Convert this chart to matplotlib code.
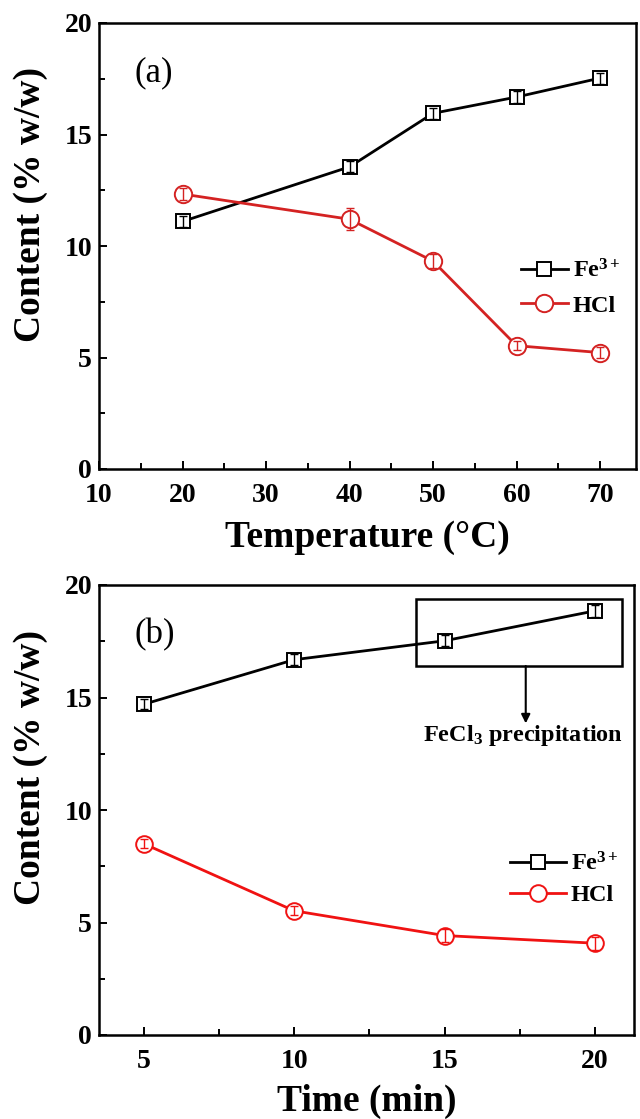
import matplotlib
matplotlib.use("Agg")
import matplotlib.pyplot as plt
from matplotlib.patches import Rectangle
from matplotlib.ticker import MultipleLocator

plt.rcParams['font.family'] = ['Liberation Serif', 'DejaVu Serif']
plt.rcParams['font.weight'] = 'bold'
plt.rcParams['mathtext.fontset'] = 'custom'
plt.rcParams['mathtext.rm'] = 'Liberation Serif:bold'
plt.rcParams['mathtext.bf'] = 'Liberation Serif:bold'
plt.rcParams['mathtext.it'] = 'Liberation Serif:bold:italic'
plt.rcParams['mathtext.default'] = 'regular'

# ---- data panel (a) ----
temp = [20, 40, 50, 60, 70]
fe_a = [11.1, 13.55, 15.95, 16.68, 17.53]
fe_a_err = [0.25, 0.25, 0.25, 0.25, 0.25]
hcl_a = [12.33, 11.2, 9.32, 5.53, 5.22]
hcl_a_err = [0.25, 0.5, 0.3, 0.2, 0.25]

# ---- data panel (b) ----
time = [5, 10, 15, 20]
fe_b = [14.7, 16.68, 17.52, 18.85]
fe_b_err = [0.22, 0.25, 0.25, 0.25]
hcl_b = [8.5, 5.52, 4.42, 4.08]
hcl_b_err = [0.2, 0.2, 0.28, 0.28]

xticks_a = [10, 20, 30, 40, 50, 60, 70]
xticks_b = [5, 10, 15, 20]
yticks = [0, 5, 10, 15, 20]

W, H = 640, 1119
fig = plt.figure(figsize=(W / 100, H / 100), dpi=100)

def px_axes(left, top, right, bottom):
    return fig.add_axes([left / W, 1 - bottom / H, (right - left) / W, (bottom - top) / H])

ax_a = px_axes(99, 23, 636, 469)
ax_b = px_axes(99, 585, 634, 1035)

def draw(ax, x, fe, fe_err, hcl, hcl_err, red, sq_ms, ci_ms):
    ax.plot(x, fe, color='black', lw=2.0, marker='s', ms=sq_ms, mfc='white',
            mec='black', mew=1.4, zorder=3, label='Fe$^{3+}$')
    ax.errorbar(x, fe, yerr=fe_err, fmt='none', ecolor='black', elinewidth=1.0,
                capsize=3.2, capthick=1.0, zorder=4)
    ax.plot(x, hcl, color=red, lw=2.0, marker='o', ms=ci_ms, mfc='white',
            mec=red, mew=1.4, zorder=3, label='HCl')
    ax.errorbar(x, hcl, yerr=hcl_err, fmt='none', ecolor=red, elinewidth=1.0,
                capsize=3.2, capthick=1.0, zorder=4)
    ax.set_ylim(0, 20)
    ax.set_yticks(yticks)
    ax.yaxis.set_minor_locator(MultipleLocator(2.5))
    ax.tick_params(which='both', direction='in', top=False, right=False, width=1.4,
                   labelsize=20)
    ax.tick_params(axis='x', which='both', pad=10)
    ax.tick_params(axis='y', which='both', pad=5)
    ax.tick_params(which='major', length=6)
    ax.tick_params(which='minor', length=4)
    for sp in ax.spines.values():
        sp.set_linewidth(1.8)
    ax.set_ylabel('Content (% w/w)', fontsize=27, fontweight='bold')
    ax.yaxis.set_label_coords(-0.095, 0.594)
    for lab in ax.get_xticklabels() + ax.get_yticklabels():
        lab.set_fontweight('bold')

red_a = '#D42222'
red_b = '#F01212'

draw(ax_a, temp, fe_a, fe_a_err, hcl_a, hcl_a_err, red_a, 10.5, 12.5)
ax_a.set_xlim(10, 74.3)
ax_a.set_xticks(xticks_a)
ax_a.xaxis.set_minor_locator(MultipleLocator(5))
ax_a.set_xlabel('Temperature (\u00b0C)', fontsize=27, fontweight='bold', labelpad=9)
ax_a.text(0.067, 0.889, '(a)', transform=ax_a.transAxes, fontsize=25,
          fontweight='normal', ha='left', va='center')
ax_a.legend(loc='upper left', bbox_to_anchor=(0.785, 0.47), frameon=False,
            fontsize=17.5, handlelength=1.95, handletextpad=0.2, borderpad=0,
            borderaxespad=0, labelspacing=0.5)

draw(ax_b, time, fe_b, fe_b_err, hcl_b, hcl_b_err, red_b, 10, 12)
ax_b.set_xlim(3.51, 21.3)
ax_b.set_xticks(xticks_b)
ax_b.xaxis.set_minor_locator(MultipleLocator(2.5))
ax_b.set_xlabel('Time (min)', fontsize=27, fontweight='bold', labelpad=7)
ax_b.text(0.067, 0.889, '(b)', transform=ax_b.transAxes, fontsize=25,
          fontweight='normal', ha='left', va='center')
ax_b.legend(loc='upper left', bbox_to_anchor=(0.768, 0.405), frameon=False,
            fontsize=17.5, handlelength=2.3, handletextpad=0.2, borderpad=0,
            borderaxespad=0, labelspacing=0.35)

ax_b.add_patch(Rectangle((14.05, 16.4), 6.85, 3.0, fill=False, lw=1.8,
                         edgecolor='black', zorder=2))
ax_b.annotate('', xy=(17.7, 13.85), xytext=(17.7, 16.4),
              arrowprops=dict(arrowstyle='-|>', color='black', lw=1.5,
                              mutation_scale=13, shrinkA=0, shrinkB=0))
ax_b.text(17.6, 13.3, 'FeCl$_3$ precipitation', fontsize=17.5, fontweight='bold',
          ha='center', va='center')

fig.savefig('out.png', dpi=100)
